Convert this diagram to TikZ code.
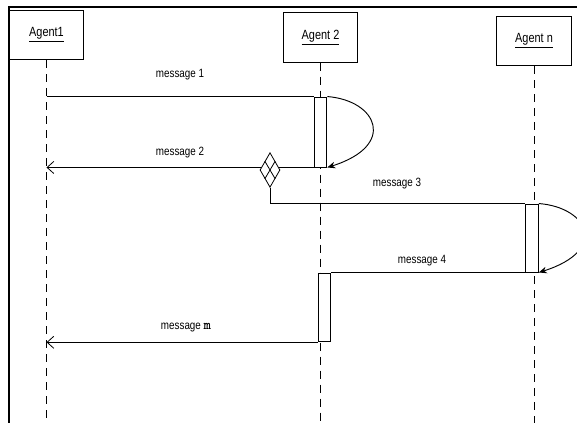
\documentclass[tikz,border=0pt]{standalone}
\usepackage{fontspec}
\setmainfont[FakeStretch=0.82]{Liberation Sans}
\usetikzlibrary{positioning, arrows.meta, shapes.geometric, calc}

\begin{document}
\begin{tikzpicture}[x=0.75pt, y=-0.75pt,
      agent/.style={
          draw, rectangle, minimum width=56pt,
          minimum height=37pt, inner sep=0pt,
          font=\fontsize{10}{12}\selectfont, line width=0.7pt
        },
      act/.style={
          draw, rectangle, fill=white, minimum width=9.5pt,
          minimum height=52pt, inner sep=0pt, line width=0.7pt
        },
      fork/.style={
          draw, diamond, fill=white, minimum width=15pt,
          minimum height=26pt, inner sep=0pt, line width=0.6pt
        },
      lifeline/.style={dash pattern=on 6pt off 4.5pt, line width=0.6pt},
      msg/.style={line width=0.7pt},
      reply/.style={->, >={Straight Barb[length=5pt, width=9pt]}, line width=0.6pt},
      selfcall/.style={->, >={Stealth[length=6pt, width=5pt]}, line width=0.7pt},
      lbl/.style={font=\fontsize{9}{11}\selectfont, inner sep=1pt}
    ]

    \useasboundingbox (0,0) rectangle (577,423);

    % ── Frame ──
    \draw[line width=1pt] (9,423) -- (9,7) -- (577,7);
    \coordinate (bot) at (0,423);

    % ── Agents and lifelines ──
    \node[agent] (a1) at (46.5,35)  {\underline{Agent1}};
    \node[agent] (a2) at (320.5,37.5) {\underline{Agent 2}};
    \node[agent] (an) at (534,41)   {\underline{Agent n}};

    \draw[lifeline] (a1.south) -- (a1.south |- bot);
    \draw[lifeline] (a2.south) -- (a2.south |- bot);
    \draw[lifeline] (an.south) -- (an.south |- bot);

    % ── Activations ──
    \node[act, minimum height=52.5pt] (x2a) at (320.5,132) {};
    \node[act, minimum height=51pt]   (xn)  at (532,238)   {};
    \node[act, minimum height=51.5pt] (x2b) at (324.5,307.5) {};

    % ── Messages ──
    \draw[msg] (x2a.north west -| a1.south) -- (x2a.north west);
    \node[lbl] (l1) at (180,75) {message 1};
    \draw[selfcall] (x2a.north east) .. controls +(50,4) and +(70,-22) .. (x2a.south east);

    \draw[reply] (x2a.south west) -- (x2a.south west -| a1.south);
    \node[lbl] (l2) at (180,153) {message 2};

    \node[fork] (fk) at (270,170) {};
    \draw[line width=0.6pt] ($(fk.north)!0.5!(fk.west)$) -- ($(fk.south)!0.5!(fk.east)$);
    \draw[line width=0.6pt] ($(fk.north)!0.5!(fk.east)$) -- ($(fk.south)!0.5!(fk.west)$);

    \draw[msg] (fk.south) |- (xn.north west);
    \node[lbl] (l3) at (397,184) {message 3};
    \draw[selfcall] (xn.north east) .. controls +(50,4) and +(70,-22) .. (xn.south east);

    \draw[msg] (x2b.north east) -- (x2b.north east -| an.south);
    \node[lbl] (l4) at (422,261) {message 4};

    \draw[reply] (x2b.south west) -- (x2b.south west -| a1.south);
    \node[lbl] (lm) at (186,328) {message {\fontsize{10.5}{11}\ttfamily\bfseries m}};

  \end{tikzpicture}
\end{document}
